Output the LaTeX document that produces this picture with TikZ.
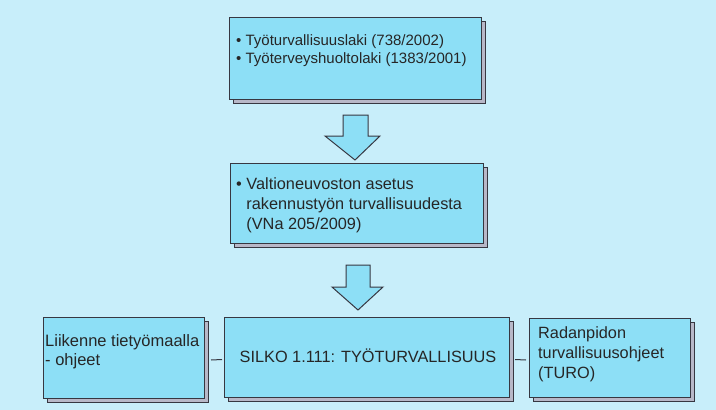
\documentclass[tikz,border=0pt]{standalone}
\usepackage{fontspec}
\setmainfont{Liberation Sans}
\usetikzlibrary{shadows}
\definecolor{bgc}{RGB}{200,238,250}
\definecolor{boxc}{RGB}{141,223,246}
\definecolor{shadc}{RGB}{184,184,200}
\definecolor{edgec}{RGB}{55,55,65}
\tikzset{
  boxnode/.style={draw=edgec, line width=1pt, fill=boxc, rectangle, inner sep=0pt, anchor=north west,
    copy shadow={shadow xshift=4pt, shadow yshift=-4pt, fill=shadc, draw=edgec, line width=0.8pt}},
  txt/.style={inner sep=0pt, align=left, text=black!85},
  blockarrow/.style={draw=edgec, line width=1pt, fill=boxc, line join=miter},
  link/.style={draw=edgec, line width=1pt}
}
\begin{document}
\begin{tikzpicture}[x=1pt,y=-1pt]
\path[fill=bgc] (0,0) rectangle (716,410);
\useasboundingbox (0,0) rectangle (716,410);

% boxes
\node[boxnode, minimum width=252pt, minimum height=82pt] (b1) at (229,17) {};
\node[boxnode, minimum width=253pt, minimum height=80pt] (b2) at (230,163) {};
\node[boxnode, minimum width=161pt, minimum height=81pt] (bl) at (43,317) {};
\node[boxnode, minimum width=285pt, minimum height=80pt] (bc) at (224,317) {};
\node[boxnode, minimum width=161pt, minimum height=79pt] (br) at (529,318) {};

% texts
\node[txt, anchor=west, font=\fontsize{15}{18}\selectfont] (t1) at (236,51)
  {• Työturvallisuuslaki (738/2002)\\• Työterveyshuoltolaki (1383/2001)};
\node[txt, anchor=west, font=\fontsize{16.3}{20}\selectfont] (t2) at (236,205)
  {• Valtioneuvoston asetus\\\phantom{• }rakennustyön turvallisuudesta\\\phantom{• }(VNa 205/2009)};
\node[txt, anchor=west, font=\fontsize{16.5}{19}\selectfont] (tl) at (45,352)
  {Liikenne tietyömaalla\\- ohjeet};
\node[txt, anchor=center, font=\fontsize{16.3}{19}\selectfont] (tc) at (368,356)
  {SILKO 1.111: TYÖTURVALLISUUS};
\node[txt, anchor=west, font=\fontsize{16.3}{20}\selectfont] (tr) at (538,354)
  {Radanpidon\\turvallisuusohjeet\\(TURO)};

% block arrows
\draw[blockarrow] (343,115) -- (368,115) -- (368,136) -- (380,136) -- (355,160)
  -- (325,136) -- (343,136) -- cycle;
\draw[blockarrow] (346,265) -- (370,265) -- (370,287) -- (383,287) -- (358,310)
  -- (332,287) -- (346,287) -- cycle;

% connectors
\draw[link] ([yshift=-2pt]bl.east) ++(6,0) -- ([yshift=-2pt,xshift=-2pt]bc.west);
\draw[link] ([yshift=-2pt,xshift=5pt]bc.east) -- ([yshift=-2pt,xshift=-3pt]br.west);
\end{tikzpicture}
\end{document}
